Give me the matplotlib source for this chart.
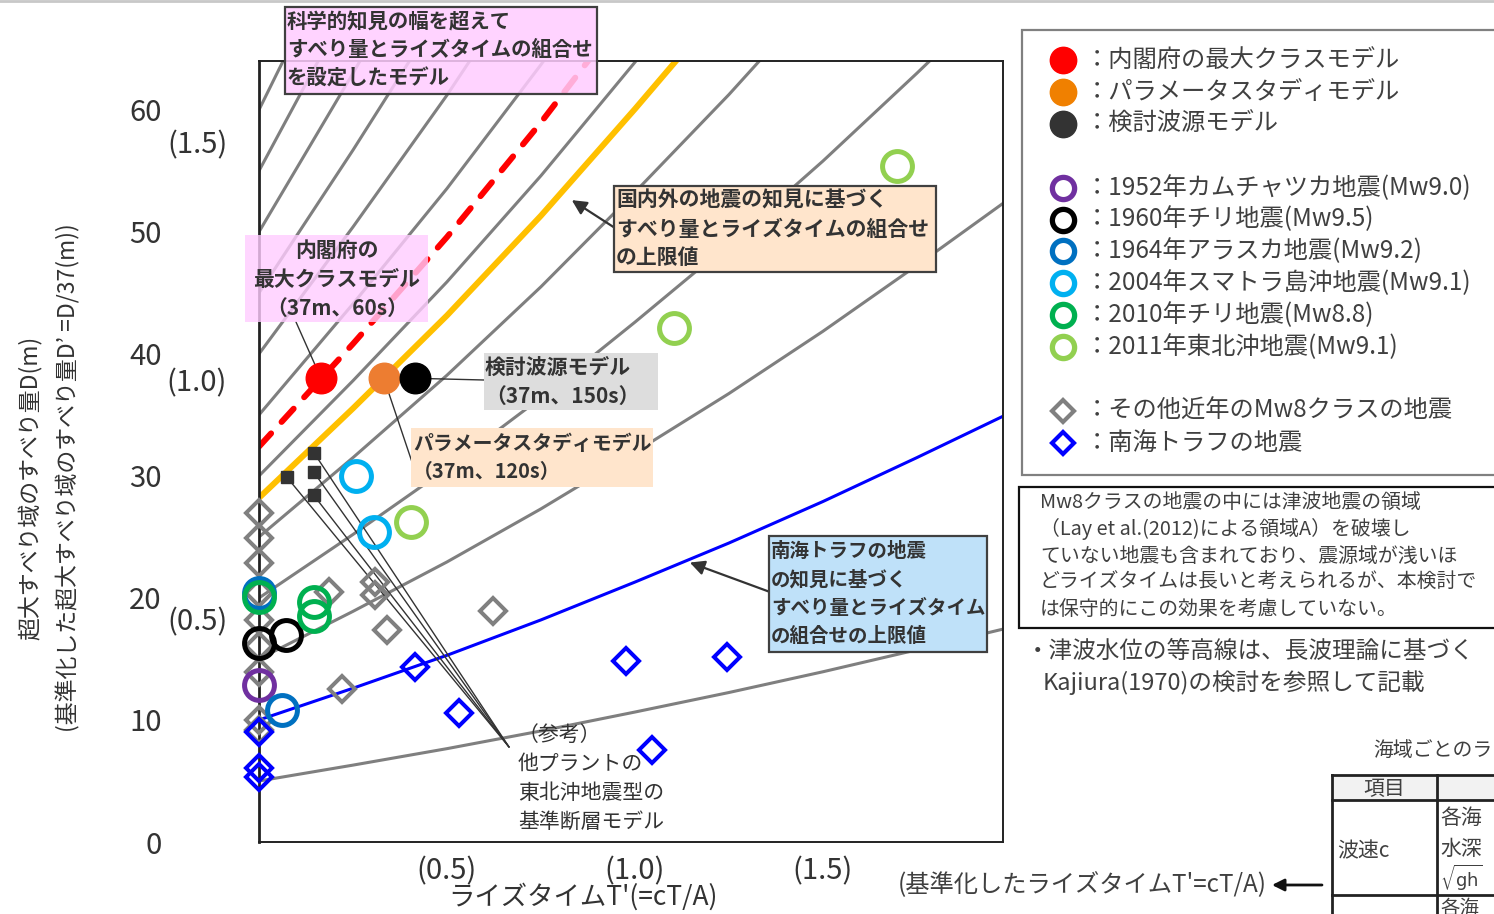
import matplotlib.pyplot as plt
import numpy as np
from matplotlib.colors import to_rgba
from matplotlib.patches import Rectangle

plt.rcParams['font.family'] = ['Noto Sans CJK JP', 'DejaVu Sans']
plt.rcParams['text.color'] = '#333333'

##################################################################### data

# tsunami height contours (Kajiura 1970): D along a contour relative to its value at T'=0
shape_t = [0.0, 0.25, 0.5, 0.75, 1.0, 1.25, 1.5, 1.75, 2.0]
shape_g = [1.0, 1.26, 1.53, 1.82, 2.13, 2.45, 2.79, 3.15, 3.52]
contour_levels = [5, 15, 20, 25, 30, 35, 40, 45, 50, 55, 60]
nankai_level = 10        # blue
upper_level = 28.2       # yellow
cabinet_level = 32.4     # red dashed

# models (T', D)
model_t = [0.165, 0.332, 0.415]
model_d = [38.0, 38.0, 38.0]
model_colors = ['#FF0000', '#ED7D31', '#000000']

# past great earthquakes
eq_labels = ['1952年カムチャツカ地震(Mw9.0)', '1960年チリ地震(Mw9.5)', '1964年アラスカ地震(Mw9.2)',
             '2004年スマトラ島沖地震(Mw9.1)', '2010年チリ地震(Mw8.8)', '2011年東北沖地震(Mw9.1)']
eq_colors = ['#7030A0', '#000000', '#0070C0', '#00B0F0', '#00B050', '#92D050']
eq_t = [[0.0], [0.0, 0.072], [0.0, 0.061], [0.258, 0.305], [0.0, 0.145, 0.145], [0.403, 1.104, 1.697]]
eq_d = [[12.9], [16.3, 17.0], [20.4, 10.8], [30.0, 25.4], [20.1, 19.7, 18.5], [26.2, 42.1, 55.4]]

# other recent Mw8 class earthquakes
other_t = [0, 0, 0, 0, 0, 0, 0, 0, 0, 0.186, 0.308, 0.308, 0.340, 0.622, 0.221]
other_d = [27.0, 24.9, 22.9, 20.4, 18.2, 16.1, 13.9, 10.0, 9.2, 20.5, 21.3, 20.2, 17.4, 18.9, 12.5]

# Nankai trough earthquakes
nankai_t = [0, 0, 0, 0.415, 0.532, 0.976, 1.245, 1.045]
nankai_d = [9.0, 6.1, 5.3, 14.3, 10.6, 14.8, 15.2, 7.5]

# reference: other plants' Tohoku-type fault models
plant_t = [0.074, 0.146, 0.146, 0.146]
plant_d = [29.9, 31.9, 30.3, 28.4]

x_ticks = [0.5, 1.0, 1.5]
x_ticklabels = ['(0.5)', '(1.0)', '(1.5)']
y_ticks = [0, 10, 20, 30, 40, 50, 60]

legend_rows = [
    ('fill', '#FF0000', '内閣府の最大クラスモデル'),
    ('fill', '#F08000', 'パラメータスタディモデル'),
    ('fill', '#333333', '検討波源モデル'),
    None,
    ('ring', eq_colors[0], eq_labels[0]),
    ('ring', eq_colors[1], eq_labels[1]),
    ('ring', eq_colors[2], eq_labels[2]),
    ('ring', eq_colors[3], eq_labels[3]),
    ('ring', eq_colors[4], eq_labels[4]),
    ('ring', eq_colors[5], eq_labels[5]),
    None,
    ('dia', '#808080', 'その他近年のMw8クラスの地震'),
    ('dia', '#0000FF', '南海トラフの地震'),
]

note_lines = ['Mw8クラスの地震の中には津波地震の領域',
              '（Lay et al.(2012)による領域A）を破壊し',
              'ていない地震も含まれており、震源域が浅いほ',
              'どライズタイムは長いと考えられるが、本検討で',
              'は保守的にこの効果を考慮していない。']

##################################################################### figure

W, H = 1494, 914
fig = plt.figure(figsize=(W / 100, H / 100), dpi=100)
ax = fig.add_axes([259 / W, 1 - 842 / H, (1003 - 259) / W, (842 - 61) / H])
ax.set_xlim(0, 1.979)
ax.set_ylim(0, 64.0)

g = np.array(shape_g)
for lv in contour_levels:
    ax.plot(shape_t, lv * g, color='#7F7F7F', lw=2.2, zorder=2)
ax.plot(shape_t, nankai_level * g, color='#0000FF', lw=2.2, zorder=2)
ax.plot(shape_t, upper_level * g, color='#FFC000', lw=4.3, zorder=2)
ax.plot(shape_t, cabinet_level * g, color='#FF0000', lw=4.3, zorder=2,
        linestyle=(0, (3.0, 2.6)), dash_capstyle='round')

ax.plot(other_t, other_d, 'D', ms=13, mfc='none', mec='#808080', mew=2.9, clip_on=False, zorder=4)
ax.plot(nankai_t, nankai_d, 'D', ms=13, mfc='none', mec='#0000FF', mew=2.9, clip_on=False, zorder=4)
for t, d, c in zip(eq_t, eq_d, eq_colors):
    ax.plot(t, d, 'o', ms=21.5, mfc='none', mec=c, mew=3.6, clip_on=False, zorder=5)
ax.plot(plant_t, plant_d, 's', ms=9, color='#333333', zorder=5)
for t, d, c in zip(model_t, model_d, model_colors):
    ax.plot(t, d, 'o', ms=22, color=c, zorder=6)

ax.set_xticks(x_ticks, x_ticklabels)
ax.set_yticks(y_ticks)
ax.tick_params(length=0, labelsize=21, colors='#333333')
ax.tick_params(axis='x', pad=10)
ax.tick_params(axis='y', pad=70)
for s in ax.spines.values():
    s.set_color('#222222')
    s.set_linewidth(1.4)
ax.spines['left'].set_linewidth(2)

##################################################################### overlay (pixel coords)

ov = fig.add_axes([0, 0, 1, 1], zorder=5)
ov.set_xlim(0, W)
ov.set_ylim(H, 0)
ov.axis('off')
ov.plot([0, W], [1, 1], color='#C8C8C8', lw=2)


def box(x0, y0, x1, y1, fc, ec='none', alpha=1.0):
    ov.add_patch(Rectangle((x0, y0), x1 - x0, y1 - y0, facecolor=to_rgba(fc, alpha),
                           edgecolor=ec, lw=1.6))


def lines(x, y0, step, texts, **kw):
    for i, s in enumerate(texts):
        ov.text(x, y0 + i * step, s, va='center', **kw)


def link(xy, px, arrow=False):
    ax.annotate('', xy=xy, xycoords='data', xytext=px, textcoords=ov.transData,
                annotation_clip=False,
                arrowprops=dict(arrowstyle='-|>' if arrow else '-', color='#333333',
                                lw=1.6 if arrow else 1.0, mutation_scale=22, shrinkA=0, shrinkB=0))


# secondary axis labels
for y, s in [(145, '(1.5)'), (383, '(1.0)'), (622, '(0.5)')]:
    ov.text(197, y, s, ha='center', va='center', fontsize=21)
ov.text(30, 488, '超大すべり域のすべり量D(m)', rotation=90, ha='center', va='center', fontsize=16.5)
ov.text(68, 478, '(基準化した超大すべり域のすべり量D’ =D/37(m))', rotation=90,
        ha='center', va='center', fontsize=16.5)
ov.text(583, 897, "ライズタイムT'(=cT/A)", ha='center', va='center', fontsize=19)

# annotation boxes
box(285, 7, 597, 94, '#FFCCFF', ec='#404040', alpha=0.85)
lines(287, 22, 28, ['科学的知見の幅を超えて', 'すべり量とライズタイムの組合せ', 'を設定したモデル'],
      fontsize=14.7, fontweight='bold')

box(245, 235, 428, 322, '#FFCCFF', alpha=0.8)
lines(337, 250, 29, ['内閣府の', '最大クラスモデル', '（37m、60s）'],
      ha='center', fontsize=15, fontweight='bold')
link((model_t[0], model_d[0]), (296, 322))

box(614, 186, 936, 272, '#FFE5CC', ec='#404040')
lines(616, 200, 29, ['国内外の地震の知見に基づく', 'すべり量とライズタイムの組合せ', 'の上限値'],
      fontsize=15, fontweight='bold')
link((0.832, 52.6), (615, 228), arrow=True)

box(484, 353, 658, 410, '#DDDDDD')
lines(485, 367, 29, ['検討波源モデル', '（37m、150s）'], fontsize=15, fontweight='bold')
link((model_t[2], model_d[2]), (484, 380))

box(411, 428, 653, 487, '#FFE5CC')
lines(413, 443, 29, ['パラメータスタディモデル', '（37m、120s）'], fontsize=14.3, fontweight='bold')
link((model_t[1], model_d[1]), (412, 462))

box(769, 536, 987, 652, '#BFE1F9', ec='#404040')
lines(771, 551, 28.5, ['南海トラフの地震', 'の知見に基づく', 'すべり量とライズタイム', 'の組合せの上限値'],
      fontsize=14, fontweight='bold')
link((1.146, 22.9), (770, 592), arrow=True)

lines(518, 735, 29, ['（参考）', '他プラントの', '東北沖地震型の', '基準断層モデル'], fontsize=15)
for t, d in zip(plant_t, plant_d):
    link((t, d), (509, 747))

# legend
box(1022, 30, 1510, 475, 'white', ec='#808080')
for i, row in enumerate(legend_rows):
    if row is None:
        continue
    kind, c, lab = row
    y = 60 + 31.9 * i
    if kind == 'fill':
        ov.plot(1063, y, 'o', ms=19, color=c)
    elif kind == 'ring':
        ov.plot(1063, y, 'o', ms=16, mfc='none', mec=c, mew=3.8)
    else:
        ov.plot(1063, y, 'D', ms=11, mfc='none', mec=c, mew=3)
    ov.text(1085, y, '：' + lab, va='center', fontsize=17.5, color='#404040')

# notes
box(1019, 487, 1510, 628, 'white', ec='#111111')
lines(1040, 503, 26.5, note_lines, fontsize=14.3, color='#404040')
ov.text(1026, 651, '・津波水位の等高線は、長波理論に基づく', va='center', fontsize=17, color='#404040')
ov.text(1043, 683, 'Kajiura(1970)の検討を参照して記載', va='center', fontsize=17, color='#404040')

# table (only the part inside the picture)
ov.text(1373, 750, '海域ごとのラ', va='center', fontsize=14.3, color='#404040')
ov.add_patch(Rectangle((1332, 775), 200, 25, facecolor='#F2F2F2', edgecolor='none'))
for y in [775, 800, 895]:
    ov.plot([1332, W], [y, y], color='#222222', lw=2)
for x in [1332, 1437]:
    ov.plot([x, x], [775, H], color='#222222', lw=2)
ov.text(1384, 789, '項目', ha='center', va='center', fontsize=15, color='#404040')
ov.text(1337, 851, '波速c', va='center', fontsize=15, color='#404040')
lines(1440, 818, 31, ['各海', '水深'], fontsize=15, color='#404040')
ov.text(1440, 878, r'$\sqrt{\mathrm{gh}}$', va='center', fontsize=13, color='#404040')
ov.text(1440, 898, '各海', va='top', fontsize=14, color='#404040')

ov.text(898, 885, "(基準化したライズタイムT'=cT/A)", va='center', fontsize=17.5, color='#404040')
ov.annotate('', xy=(1272, 885), xytext=(1322, 885),
            arrowprops=dict(arrowstyle='-|>', color='#111111', lw=2, mutation_scale=18,
                            shrinkA=0, shrinkB=0))

fig.savefig('out.png', dpi=100)
